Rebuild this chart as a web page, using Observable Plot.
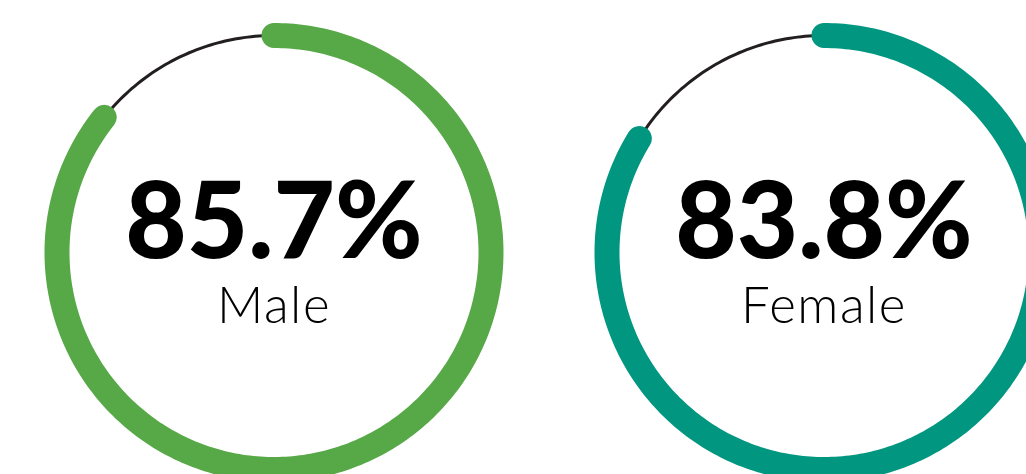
<!DOCTYPE html>
<html>
<head>
<meta charset="utf-8">
<script src="https://cdn.jsdelivr.net/npm/d3@7"></script>
<script src="https://cdn.jsdelivr.net/npm/@observablehq/plot@0.6"></script>
<style>
  html, body { margin: 0; padding: 0; background: #ffffff; }
  #chart svg { display: block; }
  #chart .ring-label text { letter-spacing: 1.5px; }
</style>
</head>
<body>
<div id="chart"></div>
<script>
// ---- data ----
const categories = ["Male", "Female"];
const values = [85.7, 83.8];            // percent
const colors = ["#57a847", "#00967f"];
const valueLabels = ["85.7%", "83.8%"];

// ---- layout (code, not data) ----
const W = 1026, H = 474;
const R = 217;                 // ring radius in px
const gap = 550 / R;           // centre-to-centre distance in ring units
const cx0 = 273.5, cy0 = 252;  // first centre in px

const centers = categories.map((c, i) => ({ cat: c, cx: i * gap, cy: 0 }));

// sampled geometry of each ring derived from the value
function arcPoints(cat, cx, cy, frac, step) {
  const end = frac * 2 * Math.PI;
  const n = Math.max(2, Math.ceil(end / step));
  const pts = [];
  for (let k = 0; k <= n; k++) {
    const a = (end * k) / n;
    pts.push({ cat, x: cx + Math.sin(a), y: cy + Math.cos(a) });
  }
  return pts;
}

const bgRings = centers.flatMap(c => arcPoints(c.cat, c.cx, c.cy, 1, Math.PI / 180));
const valueArcs = centers.flatMap((c, i) => arcPoints(c.cat, c.cx, c.cy, values[i] / 100, Math.PI / 180));
const textRows = centers.map((c, i) => ({ cat: c.cat, x: c.cx, y: c.cy, value: valueLabels[i] }));

const chart = Plot.plot({
  width: W,
  height: H,
  margin: 0,
  x: { type: "linear", domain: [-cx0 / R, (W - cx0) / R], range: [0, W], axis: null },
  y: { type: "linear", domain: [-(H - cy0) / R, cy0 / R], range: [H, 0], axis: null },
  color: { domain: categories, range: colors },
  style: { background: "#ffffff", overflow: "hidden" },
  marks: [
    Plot.line(bgRings, { x: "x", y: "y", z: "cat", stroke: "#231f20", strokeWidth: 3 }),
    Plot.line(valueArcs, { x: "x", y: "y", z: "cat", stroke: "cat", strokeWidth: 25, strokeLinecap: "round" }),
    Plot.text(textRows, {
      x: "x", y: "y", text: "value", dy: 5, lineAnchor: "bottom",
      fontSize: 106, fontWeight: 900, fontFamily: "Lato", fill: "#000000"
    }),
    Plot.text(textRows, {
      x: "x", y: "y", text: "cat", dy: 70, lineAnchor: "bottom",
      fontSize: 51, fontWeight: 300, fontFamily: "Lato", fill: "#000000",
      className: "ring-label"
    })
  ]
});
document.getElementById("chart").appendChild(chart);
</script>
</body>
</html>
